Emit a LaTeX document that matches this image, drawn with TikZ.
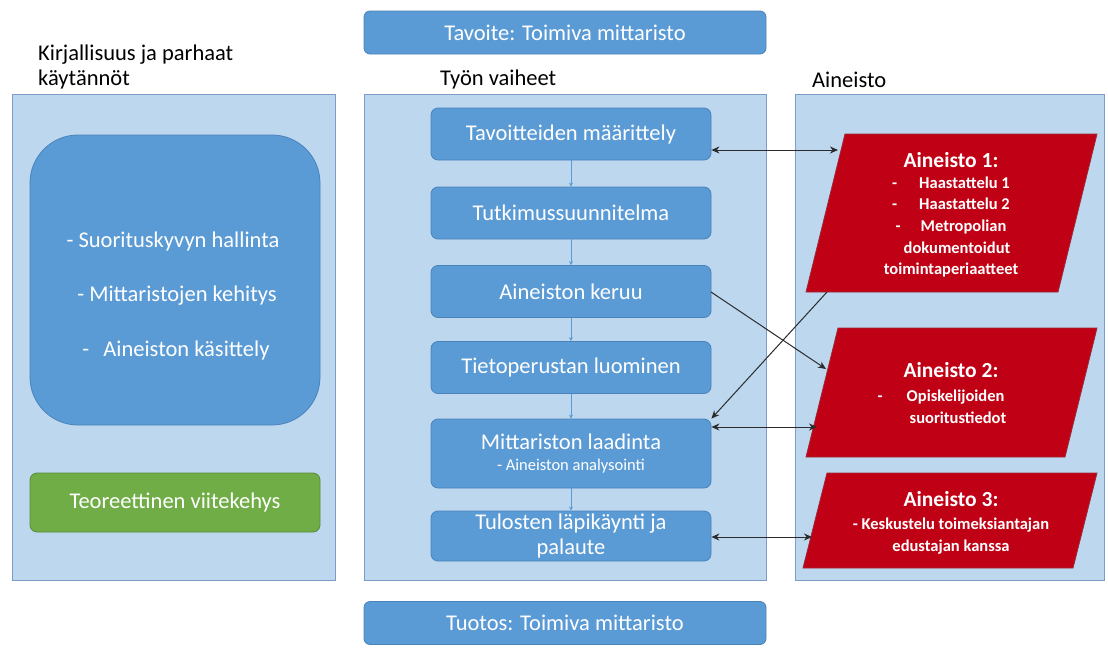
\documentclass[tikz,border=0pt]{standalone}
\usepackage{fontspec}
\setmainfont{Carlito}
\usetikzlibrary{arrows.meta}
\definecolor{panelfill}{HTML}{BDD7EE}
\definecolor{paneldraw}{HTML}{7C9CC6}
\definecolor{boxfill}{HTML}{5B9BD5}
\definecolor{boxdraw}{HTML}{4A82BA}
\definecolor{redfill}{HTML}{C00014}
\definecolor{reddraw}{HTML}{9C2A3A}
\definecolor{greenfill}{HTML}{70AD47}
\definecolor{greendraw}{HTML}{5A8C3A}
\definecolor{linecol}{HTML}{2B2B2B}
\tikzset{
  panel/.style={draw=paneldraw, fill=panelfill, line width=1pt},
  bigfont/.style={font=\fontsize{22.5}{25}\selectfont},
  stepbox/.style={draw=boxdraw, fill=boxfill, rounded corners=7pt, line width=0.8pt,
    minimum width=280pt, minimum height=52pt, text=white, bigfont, align=center, inner sep=0pt},
  goalbox/.style={draw=boxdraw, fill=boxfill, rounded corners=6pt, line width=0.8pt,
    minimum width=402pt, minimum height=43pt, text=white, bigfont, inner sep=0pt},
  redbox/.style={draw=reddraw, fill=redfill, line width=0.8pt},
  redtext/.style={text=white, align=center, font=\bfseries\fontsize{16.5}{21.7}\selectfont, inner sep=0pt},
  redtitle/.style={text=white, font=\bfseries\fontsize{21.5}{24}\selectfont, inner sep=0pt},
  label/.style={text=black, bigfont, anchor=west, align=left, inner sep=0pt},
  littext/.style={text=white, bigfont, inner sep=0pt},
  flow/.style={draw=boxfill, line width=0.8pt, -{Stealth[length=4pt,width=4pt]}},
  link/.style={draw=linecol, line width=1pt, -{Stealth[length=8pt,width=7pt]}},
  dlink/.style={draw=linecol, line width=1pt, {Stealth[length=8pt,width=7pt]}-{Stealth[length=8pt,width=7pt]}},
}
\begin{document}
\begin{tikzpicture}[x=1pt,y=-1pt]
\useasboundingbox (0,0) rectangle (1108,653);
\fill[white] (0,0) rectangle (1108,653);
% panels
\draw[panel] (12,94) rectangle (335,580);
\draw[panel] (364,94) rectangle (766,580);
\draw[panel] (795,94) rectangle (1104,580);
% labels
\node[label] (lablit) at (38,67) {Kirjallisuus ja parhaat\\käytännöt};
\node[label] (labwork) at (440,80) {Työn vaiheet};
\node[label] (labdata) at (812,80) {Aineisto};
% goal / output
\node[goalbox] (goal) at (565,32.5) {Tavoite: Toimiva mittaristo};
\node[goalbox] (output) at (565,623) {Tuotos: Toimiva mittaristo};
% left boxes
\draw[draw=boxdraw, fill=boxfill, line width=0.8pt, rounded corners=48pt] (30,135) rectangle (320,425);
\node[littext] (lit1) at (173,241) {- Suorituskyvyn hallinta};
\node[littext] (lit2) at (177,296) {- Mittaristojen kehitys};
\node[littext] (lit3) at (176,350) {-\hspace{14pt}Aineiston käsittely};
\node[draw=greendraw, fill=greenfill, rounded corners=7pt, line width=0.8pt, minimum width=290pt, minimum height=59pt,
  text=white, bigfont, inner sep=0pt] (theory) at (175,502.5) {Teoreettinen viitekehys};
% steps
\node[stepbox] (s1) at (571,134) {Tavoitteiden määrittely};
\node[stepbox] (s2) at (571,213) {Tutkimussuunnitelma};
\node[stepbox] (s3) at (571,291.5) {Aineiston keruu};
\node[stepbox] (s4) at (571,367.5) {Tietoperustan luominen};
\node[stepbox, minimum height=69pt] (s5) at (571,453.5) {Mittariston laadinta\\[-4pt]{\fontsize{16.5}{18}\selectfont - Aineiston analysointi}};
\node[stepbox, minimum height=50pt] (s6) at (571,536) {Tulosten läpikäynti ja\\palaute};
\draw[flow] (s1) -- (s2);
\draw[flow] (s2) -- (s3);
\draw[flow] (s3) -- (s4);
\draw[flow] (s4) -- (s5);
\draw[flow] (s5) -- (s6);
% data parallelograms
\draw[redbox] (845,134) -- (1097,134) -- (1058,292) -- (806,292) -- cycle;
\node[redtitle] (a1t) at (951,160) {Aineisto 1:};
\node[redtext] (a1) at (951,227) {-\hspace{22pt}Haastattelu 1\\-\hspace{22pt}Haastattelu 2\\-\hspace{20pt}Metropolian\\\hspace{12pt}dokumentoidut\\toimintaperiaatteet};
\draw[redbox] (838,328) -- (1097,328) -- (1065,457) -- (806,457) -- cycle;
\node[redtitle] (a2t) at (951,370) {Aineisto 2:};
\node[redtext, align=left] (a2) at (942,407) {-\hspace{24pt}Opiskelijoiden\\\hspace{32pt}suoritustiedot};
\draw[redbox] (827,473) -- (1097,473) -- (1073,568) -- (803,568) -- cycle;
\node[redtitle] (a3t) at (951,499) {Aineisto 3:};
\node[redtext] (a3) at (951,536) {- Keskustelu toimeksiantajan\\edustajan kanssa};
% connector anchors on parallelograms
\coordinate (a1w) at (838,150);
\coordinate (a1s) at (827,292);
\coordinate (a2nw) at (826,369);
\coordinate (a2w) at (817,427);
\coordinate (a3w) at (812,537);
\coordinate (s3e) at (711,292);
% connectors
\draw[dlink] (s1.east |- a1w) -- (a1w);
\draw[link] (s3e) -- (a2nw);
\draw[link] (a1s) -- (s5.north east);
\draw[dlink] (s5.east |- a2w) -- (a2w);
\draw[dlink] (s6.east |- a3w) -- (a3w);
\end{tikzpicture}
\end{document}
